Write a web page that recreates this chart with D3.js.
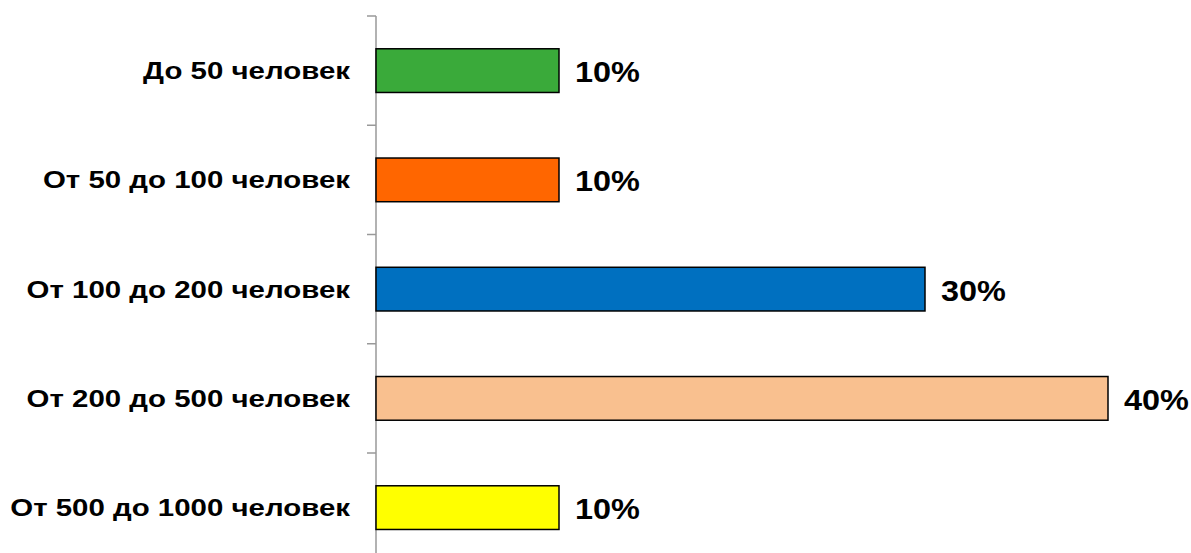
<!DOCTYPE html>
<html>
<head>
<meta charset="utf-8">
<script src="https://cdn.jsdelivr.net/npm/d3@7"></script>
<style>
  html, body { margin: 0; padding: 0; background: #fff; }
  svg { display: block; }
</style>
</head>
<body>
<svg id="chart" width="1191" height="553"></svg>
<script>
// Company size groups and their share of respondents (%)
const categories = [
  "До 50 человек",
  "От 50 до 100 человек",
  "От 100 до 200 человек",
  "От 200 до 500 человек",
  "От 500 до 1000 человек"
];
const values = [10, 10, 30, 40, 10];
const colors = ["#3AAA3A", "#FF6600", "#0070C0", "#F9C08F", "#FFFF00"];

const svg = d3.select("#chart");
const axisX = 376;
const plotTop = 16;
const step = 109.25;

const y = d3.scaleBand()
  .domain(categories)
  .range([plotTop, plotTop + step * categories.length])
  .paddingInner(0.6)
  .paddingOuter(0.3);

const x = d3.scaleLinear()
  .domain([0, 40])
  .range([axisX, 1108]);

// Category axis: gray line with ticks between bands
svg.append("line")
  .attr("x1", axisX).attr("x2", axisX)
  .attr("y1", plotTop).attr("y2", 553)
  .attr("stroke", "#999").attr("stroke-width", 1.5);

const tickYs = d3.range(categories.length + 1).map(i => plotTop + i * step);
svg.selectAll("line.tick")
  .data(tickYs)
  .join("line")
  .attr("class", "tick")
  .attr("x1", axisX - 9).attr("x2", axisX)
  .attr("y1", d => d).attr("y2", d => d)
  .attr("stroke", "#999").attr("stroke-width", 1.5);

// Bars
svg.selectAll("rect.bar")
  .data(values)
  .join("rect")
  .attr("class", "bar")
  .attr("x", x(0))
  .attr("y", (d, i) => y(categories[i]))
  .attr("width", d => x(d) - x(0))
  .attr("height", y.bandwidth())
  .attr("fill", (d, i) => colors[i])
  .attr("stroke", "#000")
  .attr("stroke-width", 1.5);

// Category labels (wide bold face)
svg.selectAll("text.cat")
  .data(categories)
  .join("text")
  .attr("class", "cat")
  .attr("transform", d => `translate(350,${y(d) + y.bandwidth() / 2 + 8.5}) scale(1.28,1)`)
  .attr("text-anchor", "end")
  .attr("font-family", "Liberation Sans, Arial, sans-serif")
  .attr("font-weight", "bold")
  .attr("font-size", 23)
  .attr("fill", "#000")
  .text(d => d);

// Value labels
svg.selectAll("text.val")
  .data(values)
  .join("text")
  .attr("class", "val")
  .attr("transform", (d, i) => `translate(${x(d) + 16},${y(categories[i]) + y.bandwidth() / 2 + 11.5}) scale(1.08,1)`)
  .attr("font-family", "Liberation Sans, Arial, sans-serif")
  .attr("font-weight", "bold")
  .attr("font-size", 30)
  .attr("fill", "#000")
  .text(d => d + "%");
</script>
</body>
</html>
